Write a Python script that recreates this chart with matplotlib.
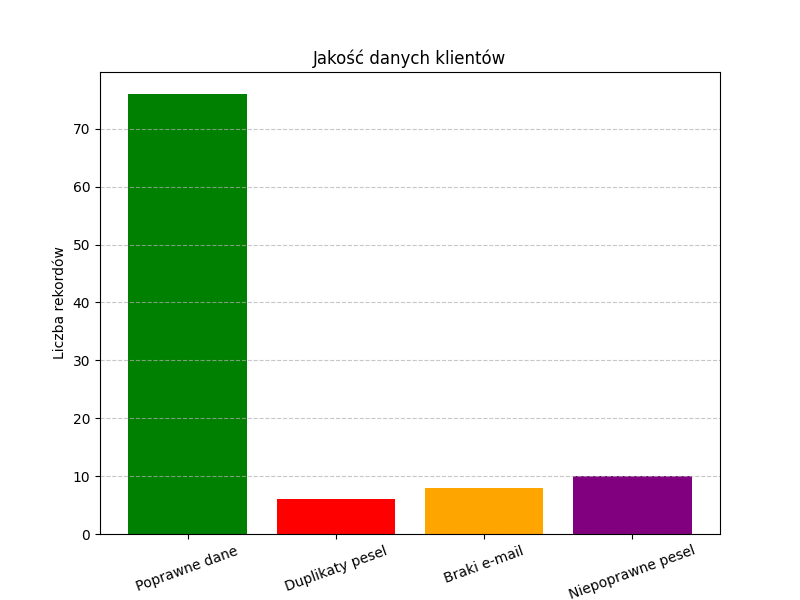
import matplotlib
matplotlib.use("Agg")
import matplotlib.pyplot as plt

categories = ["Poprawne dane", "Duplikaty pesel", "Braki e-mail", "Niepoprawne pesel"]
counts = [76, 6, 8, 10]
colors = ["green", "red", "orange", "purple"]

fig, ax = plt.subplots(figsize=(8, 6), dpi=100)
ax.bar(categories, counts, color=colors)
ax.set_title("Jakość danych klientów")
ax.set_ylabel("Liczba rekordów")
ax.grid(axis="y", linestyle="--", alpha=0.7)
plt.xticks(rotation=20)
plt.savefig("out.png")
